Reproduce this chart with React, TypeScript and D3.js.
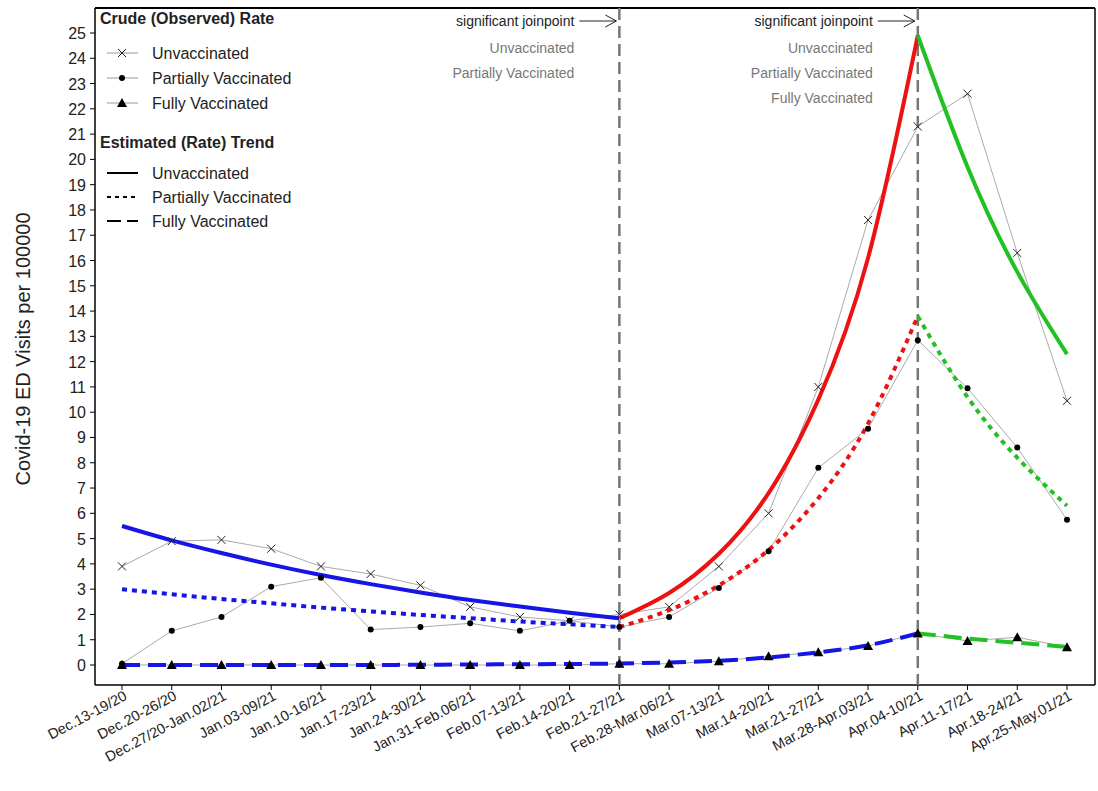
import * as d3 from "d3";

const weeks = ["Dec.13-19/20","Dec.20-26/20","Dec.27/20-Jan.02/21","Jan.03-09/21","Jan.10-16/21","Jan.17-23/21","Jan.24-30/21","Jan.31-Feb.06/21","Feb.07-13/21","Feb.14-20/21","Feb.21-27/21","Feb.28-Mar.06/21","Mar.07-13/21","Mar.14-20/21","Mar.21-27/21","Mar.28-Apr.03/21","Apr.04-10/21","Apr.11-17/21","Apr.18-24/21","Apr.25-May.01/21"];

const unvacc = [3.9,4.9,4.95,4.6,3.9,3.6,3.15,2.3,1.9,1.75,2.0,2.3,3.9,6.0,11.0,17.6,21.3,22.6,16.3,10.45];
const partial = [0.05,1.35,1.9,3.1,3.45,1.4,1.5,1.65,1.35,1.75,1.5,1.9,3.05,4.5,7.8,9.35,12.85,10.95,8.6,5.75];
const fully = [0,0,0,0,0,0,0,0,0,0,0.05,0.05,0.15,0.35,0.5,0.75,1.25,0.95,1.1,0.7];

// fitted trend segments: [startIndex, values]
const unvTrend: [number, number[]][] = [
  [0, [5.5,4.93,4.43,3.97,3.56,3.2,2.87,2.57,2.31,2.07,1.85]],
  [10, [1.85,2.85,4.4,6.8,10.5,16.1,24.9]],
  [16, [24.9,19.7,15.55,12.3]],
];
const parTrend: [number, number[]][] = [
  [0, [3.0,2.8,2.61,2.44,2.27,2.12,1.98,1.85,1.72,1.61,1.5]],
  [10, [1.5,2.17,3.15,4.55,6.6,9.55,13.8]],
  [16, [13.8,10.6,8.2,6.3]],
];
const fulTrend: [number, number[]][] = [
  [0, [0,0,0,0,0,0,0.01,0.02,0.03,0.04,0.06,0.1,0.17,0.3,0.5,0.78,1.25]],
  [16, [1.25,1.05,0.88,0.72]],
];
const segColors = ["#1515e6", "#ee1111", "#22c022"];
const fulColors = ["#1515e6", "#22c022"];

const W = 1098, H = 791;
const m = { left: 95, right: 3, top: 8 };
const plotBottom = 685;
const x = d3.scalePoint<string>().domain(weeks).range([122, 1067]);
const y = d3.scaleLinear().domain([0, 25]).range([665, 33]);
const font = "Arial, 'Liberation Sans', sans-serif";

function xi(i: number) { return x(weeks[i]) as number; }

export default function App() {
  const smooth = d3.line<[number, number]>().x(d => xi(d[0])).y(d => y(d[1])).curve(d3.curveNatural);
  const straight = d3.line<[number, number]>().x(d => xi(d[0])).y(d => y(d[1]));
  const seg = (start: number, v: number[]) => smooth(v.map((val, k) => [start + k, val] as [number, number])) as string;
  const obsLine = (v: number[]) => straight(v.map((val, k) => [k, val] as [number, number])) as string;
  const cross = (cx: number, cy: number, k: string) => (
    <path key={k} d={`M${cx-4},${cy-4}L${cx+4},${cy+4}M${cx-4},${cy+4}L${cx+4},${cy-4}`} stroke="#222" strokeWidth={1} />
  );
  const tri = (cx: number, cy: number, k: string) => (
    <path key={k} d={`M${cx},${cy-5}L${cx+5},${cy+4}L${cx-5},${cy+4}Z`} fill="#000" />
  );
  return (
    <svg width={W} height={H} style={{ position: "absolute", left: 0, top: 0, background: "#fff" }} fontFamily={font}>
      <line x1={m.left} x2={W - m.right} y1={m.top} y2={m.top} stroke="#000" strokeWidth={2} />
      <line x1={m.left} x2={m.left} y1={m.top} y2={plotBottom} stroke="#000" strokeWidth={1.5} />
      <line x1={W - m.right} x2={W - m.right} y1={m.top} y2={plotBottom} stroke="#000" strokeWidth={1.5} />
      <line x1={m.left} x2={W - m.right} y1={plotBottom} y2={plotBottom} stroke="#000" strokeWidth={1.5} />
      {d3.range(0, 26).map(t => (
        <g key={t}>
          <line x1={m.left - 5} x2={m.left} y1={y(t)} y2={y(t)} stroke="#000" />
          <text x={m.left - 9} y={y(t) + 6} textAnchor="end" fontSize={16} fill="#222">{t}</text>
        </g>
      ))}
      <text transform={`translate(30,${(y(0) + y(25)) / 2}) rotate(-90)`} textAnchor="middle" fontSize={20} fill="#222">Covid-19 ED Visits per 100000</text>
      {weeks.map((w, i) => (
        <g key={w}>
          <line x1={xi(i)} x2={xi(i)} y1={plotBottom} y2={plotBottom + 5} stroke="#000" />
          <text transform={`translate(${xi(i) + 6},${plotBottom + 14}) rotate(-28)`} textAnchor="end" fontSize={14.5} fill="#222">{w}</text>
        </g>
      ))}
      {[10, 16].map(i => (
        <line key={i} x1={xi(i)} x2={xi(i)} y1={m.top} y2={plotBottom} stroke="#777" strokeWidth={2.5} strokeDasharray="12,6" />
      ))}
      {[unvacc, partial, fully].map((v, k) => (
        <path key={k} d={obsLine(v)} fill="none" stroke="#aaa" strokeWidth={1} />
      ))}
      {unvTrend.map(([s, v], k) => <path key={"u" + k} d={seg(s, v)} fill="none" stroke={segColors[k]} strokeWidth={4} />)}
      {parTrend.map(([s, v], k) => <path key={"p" + k} d={seg(s, v)} fill="none" stroke={segColors[k]} strokeWidth={4} strokeDasharray="5,5" />)}
      {fulTrend.map(([s, v], k) => <path key={"f" + k} d={seg(s, v)} fill="none" stroke={fulColors[k]} strokeWidth={4} strokeDasharray="18,8" />)}
      {unvacc.map((v, i) => cross(xi(i), y(v), "x" + i))}
      {partial.map((v, i) => <circle key={"c" + i} cx={xi(i)} cy={y(v)} r={3} fill="#000" />)}
      {fully.map((v, i) => tri(xi(i), y(v), "t" + i))}
      {[[10, ["Unvaccinated", "Partially Vaccinated"]], [16, ["Unvaccinated", "Partially Vaccinated", "Fully Vaccinated"]]].map(([i, labs]: any) => (
        <g key={i}>
          <text x={xi(i) - 45} y={26} textAnchor="end" fontSize={14} fill="#222">significant joinpoint</text>
          <path d={`M${xi(i) - 40},21H${xi(i) - 3}M${xi(i) - 14},15L${xi(i) - 3},21L${xi(i) - 14},27`} stroke="#222" fill="none" />
          {labs.map((l: string, j: number) => (
            <text key={l} x={xi(i) - 45} y={53 + j * 25} textAnchor="end" fontSize={14} fill="#777">{l}</text>
          ))}
        </g>
      ))}
      <g fontSize={16} fill="#222">
        <text x={100} y={24} fontWeight="bold">Crude (Observed) Rate</text>
        {["Unvaccinated", "Partially Vaccinated", "Fully Vaccinated"].map((l, j) => {
          const ly = 53 + j * 25;
          return (
            <g key={l}>
              <line x1={107} x2={138} y1={ly} y2={ly} stroke="#999" />
              {j === 0 ? cross(122, ly, "lx") : j === 1 ? <circle cx={122} cy={ly} r={3} fill="#000" /> : tri(122, ly, "lt")}
              <text x={152} y={ly + 6}>{l}</text>
            </g>
          );
        })}
        <text x={100} y={148} fontWeight="bold">Estimated (Rate) Trend</text>
        {["Unvaccinated", "Partially Vaccinated", "Fully Vaccinated"].map((l, j) => {
          const ly = 173 + j * 24;
          return (
            <g key={l}>
              <line x1={107} x2={138} y1={ly} y2={ly} stroke="#000" strokeWidth={2} strokeDasharray={j === 0 ? "" : j === 1 ? "4,4" : "14,6"} />
              <text x={152} y={ly + 6}>{l}</text>
            </g>
          );
        })}
      </g>
    </svg>
  );
}
